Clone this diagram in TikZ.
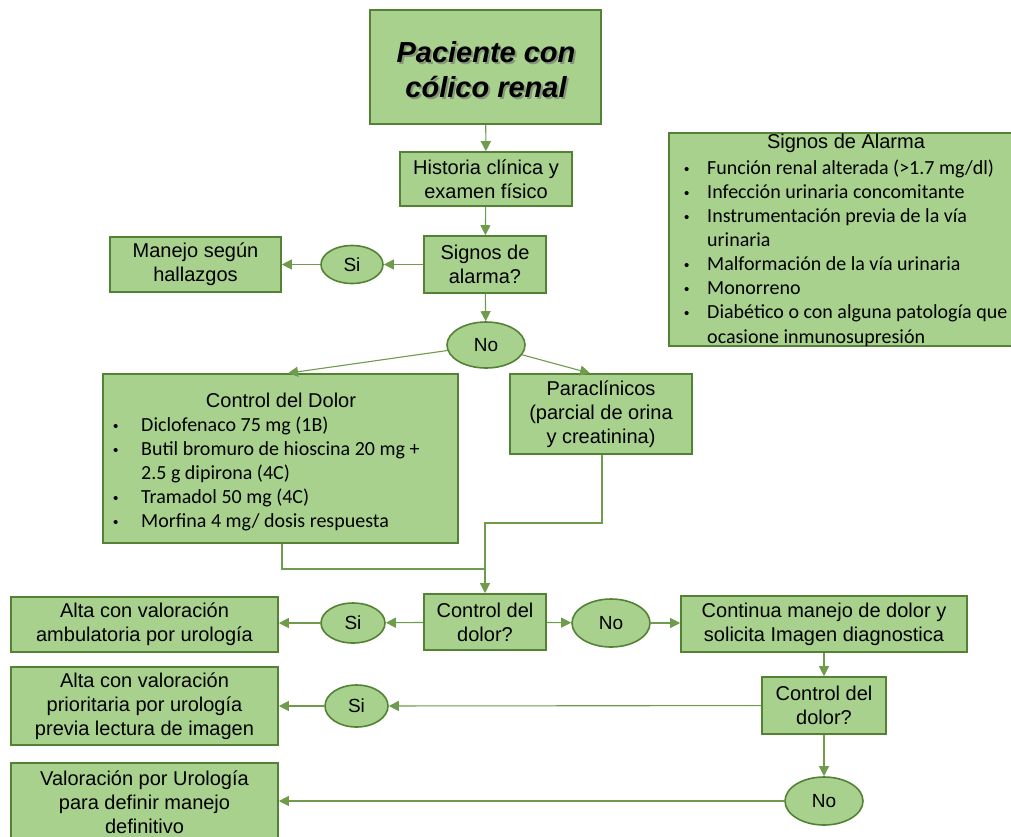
\documentclass[tikz,border=0pt]{standalone}
\usepackage{fontspec}
\setmainfont{Liberation Sans}
\newfontfamily\calfont{Carlito}
\usetikzlibrary{arrows.meta,shapes.geometric}
\definecolor{gfill}{HTML}{A9D18E}
\definecolor{gdraw}{HTML}{548235}
\definecolor{gline}{HTML}{6E9B4C}
\newcommand\smallbul{{\rmfamily\fontsize{15}{15}\selectfont\textbullet}}
\newcommand\mybulA{\makebox[23pt][l]{\smallbul}}
\newcommand\myindA{\hspace*{23pt}}
\newcommand\mybulB{\makebox[28pt][l]{\smallbul}}
\newcommand\myindB{\hspace*{28pt}}
\tikzset{
  box/.style={draw=gdraw, fill=gfill, line width=1.6pt, inner sep=2pt, align=center,
    font=\fontsize{20}{24}\selectfont},
  panel/.style={draw=gdraw, fill=gfill, line width=1.6pt, inner sep=0pt},
  oval/.style={ellipse, draw=gdraw, fill=gfill, line width=1.6pt, inner sep=0pt,
    font=\fontsize{19}{23}\selectfont},
  txt/.style={inner sep=0pt, align=center, font=\fontsize{20}{24}\selectfont},
  listtxt/.style={inner sep=0pt, align=left, anchor=north west,
    font=\calfont\fontsize{20}{24.1}\selectfont},
  conn/.style={draw=gline, line width=1.1pt},
  arr/.style={conn, -{Triangle[length=10pt,width=10pt]}},
}
\begin{document}
\begin{tikzpicture}[x=1pt,y=-1pt]
\useasboundingbox (0,0) rectangle (1011,836);
\clip (0,0) rectangle (1011,836);

% start
\node[panel, minimum width=231pt, minimum height=114pt] (start) at (485.5,67) {};
\node[txt, text=black!60, opacity=0.55, font=\fontsize{29}{35}\selectfont\bfseries\itshape]
  (startshadow) at (488,72) {Paciente con\\cólico renal};
\node[txt, font=\fontsize{29}{35}\selectfont\bfseries\itshape]
  (starttext) at (486,70) {Paciente con\\cólico renal};

\node[box, minimum width=172pt, minimum height=54pt] (hist) at (486,179) {Historia clínica y\\examen físico};
\node[box, minimum width=122pt, minimum height=57pt] (signos) at (485,264.5) {Signos de\\alarma?};
\node[oval, minimum width=62pt, minimum height=38pt] (si1) at (352,264.5) {Si};
\node[box, minimum width=171pt, minimum height=55pt] (manejo) at (195.5,264.5) {Manejo según\\hallazgos};
\node[oval, minimum width=78pt, minimum height=46pt] (no1) at (486,345) {No};

% alarm panel
\node[panel, minimum width=343pt, minimum height=213pt] (alarm) at (840.5,239.5) {};
\node[txt] (alarmhead) at (846,143.5) {Signos de Alarma};
\node[listtxt] (alarmlist) at (684,159.5) {\mybulA Función renal alterada (>1.7 mg/dl)\\
\mybulA Infección urinaria concomitante\\
\mybulA Instrumentación previa de la vía\\
\myindA urinaria\\
\mybulA Malformación de la vía urinaria\\
\mybulA Monorreno\\
\mybulA Diabético o con alguna patología que\\
\myindA ocasione inmunosupresión};

% dolor panel
\node[panel, minimum width=355pt, minimum height=169pt] (dolor) at (280.5,458.5) {};
\node[txt] (dolorhead) at (281,400.5) {Control del Dolor};
\node[listtxt] (dolorlist) at (113,416.5) {\mybulB Diclofenaco 75 mg (1B)\\
\mybulB Butil bromuro de hioscina 20 mg +\\
\myindB 2.5 g dipirona (4C)\\
\mybulB Tramadol 50 mg (4C)\\
\mybulB Morfina 4 mg/ dosis respuesta};

\node[box, minimum width=182pt, minimum height=80pt] (para) at (601,414) {Paraclínicos\\(parcial de orina\\y creatinina)};

\node[box, minimum width=122pt, minimum height=56pt] (cd1) at (485,622) {Control del\\dolor?};
\node[oval, minimum width=64pt, minimum height=40pt] (si2) at (353,623) {Si};
\node[box, minimum width=267pt, minimum height=55pt] (alta1) at (144.5,624.5) {Alta con valoración\\ambulatoria por urología};
\node[oval, minimum width=78pt, minimum height=48pt] (no2) at (611,623) {No};
\node[box, minimum width=286pt, minimum height=56pt] (cont) at (824,624) {Continua manejo de dolor y\\solicita Imagen diagnostica};
\node[box, minimum width=124pt, minimum height=57pt] (cd2) at (824,705.5) {Control del\\dolor?};
\node[oval, minimum width=63pt, minimum height=42pt] (si3) at (356.5,706) {Si};
\node[box, minimum width=267pt, minimum height=78pt] (alta2) at (144.5,706) {Alta con valoración\\prioritaria por urología\\previa lectura de imagen};
\node[oval, minimum width=78pt, minimum height=48pt] (no3) at (824,801) {No};
\node[box, minimum width=267pt, minimum height=78pt, anchor=north] (val) at (144.5,762) {Valoración por Urología\\para definir manejo\\definitivo};

% connectors
\draw[arr] (start) -- (hist);
\draw[arr] (hist) -- (signos);
\draw[arr] (signos) -- (si1);
\draw[arr] (si1) -- (manejo);
\draw[arr] (signos) -- (no1);
\draw[arr] (no1) -- ([xshift=7.5pt]dolor.north);
\draw[arr] (no1) -- ([xshift=-11pt]para.north);
\coordinate (m1) at (485,569);
\coordinate (m2) at (485,523);
\draw[conn] ([xshift=1.5pt]dolor.south) |- (m1);
\draw[arr] ([xshift=1pt]para.south) |- (m2) -- (cd1.north);
\draw[arr] (cd1) -- (si2);
\draw[arr] (si2) -- (si2 -| alta1.east);
\draw[arr] (cd1) -- (no2);
\draw[arr] (no2) -- (no2 -| cont.west);
\draw[arr] (cont) -- (cd2);
\draw[arr] (cd2) -- (si3);
\draw[arr] (si3) -- (si3 -| alta2.east);
\draw[arr] (cd2) -- (no3);
\draw[arr] (no3) -- (no3 -| val.east);
\end{tikzpicture}
\end{document}
